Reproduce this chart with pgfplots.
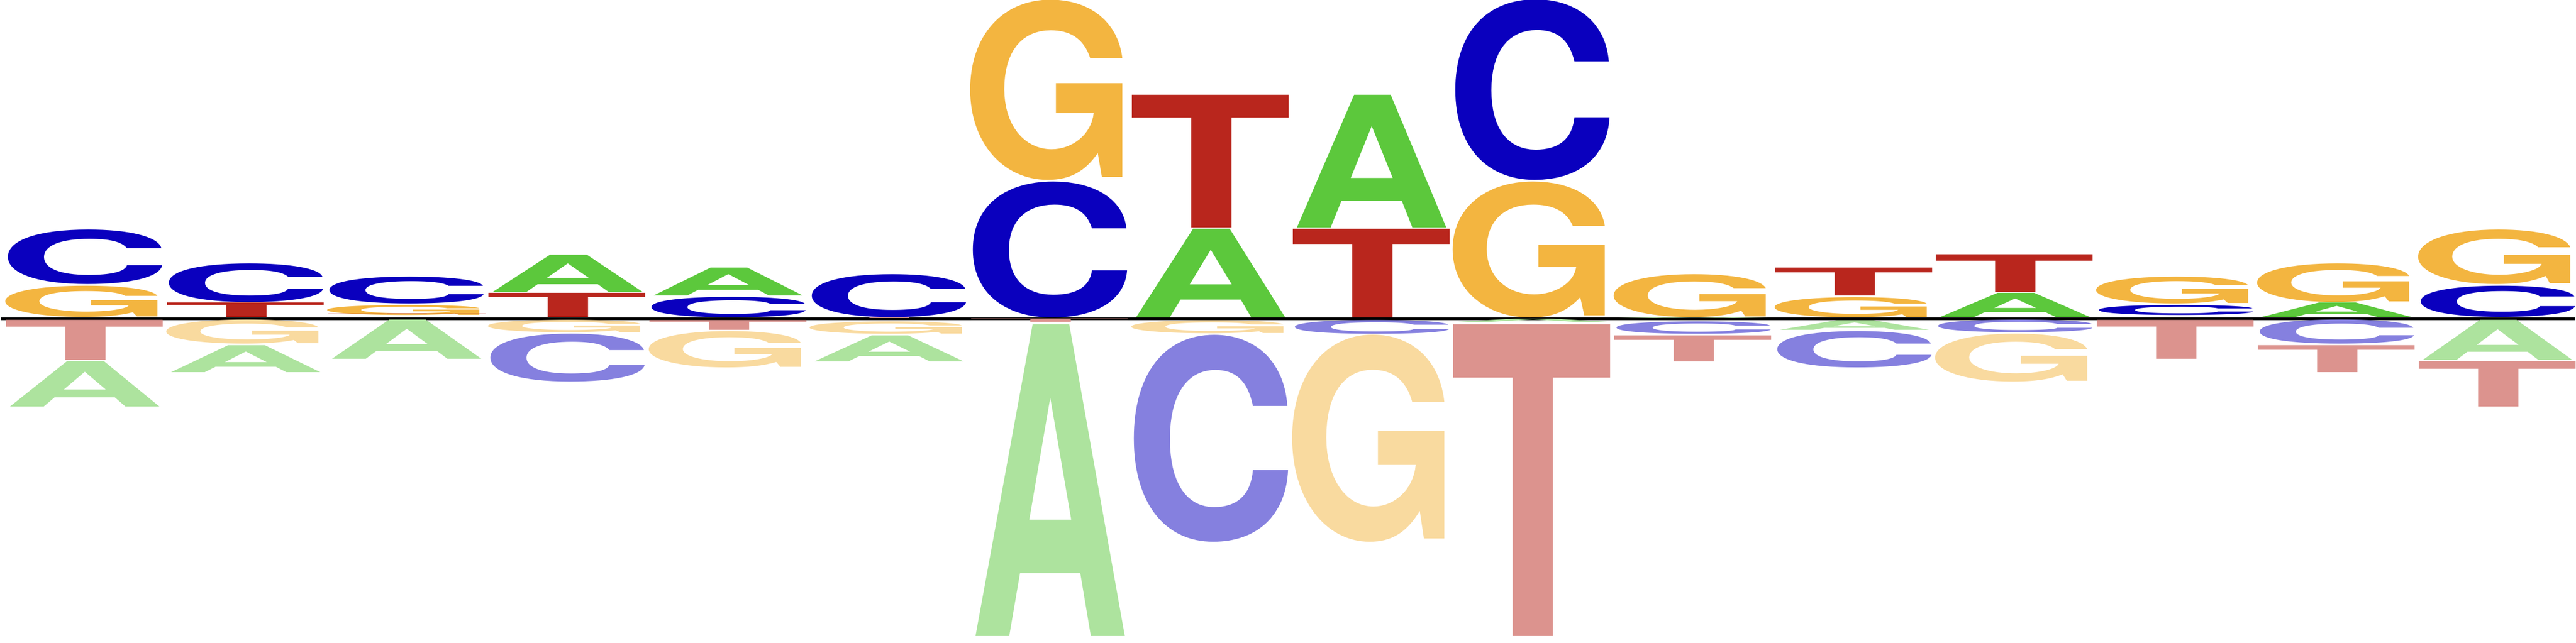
\documentclass[border=0pt]{standalone}
\usepackage{fontspec}
\usepackage{graphicx}
\usepackage{pgfplots}
\usepackage{pgfplotstable}
\pgfplotsset{compat=1.18}
\newfontfamily\logofont{TeX Gyre Heros}

% letter colours: above the line, and faded below it
\definecolor{lA}{RGB}{92,200,60}
\definecolor{lC}{RGB}{10,0,190}
\definecolor{lG}{RGB}{243,181,64}
\definecolor{lT}{RGB}{185,38,29}
\colorlet{fA}{lA!50!white}
\colorlet{fC}{lC!50!white}
\colorlet{fG}{lG!50!white}
\colorlet{fT}{lT!50!white}

% position, bottom of letter, letter height
\pgfplotstableread{
x y h
4 0.167 0.231
5 0.142 0.174
8 0.007 0.552
9 0.568 0.825
13 0.009 0.150
14 0.010 0.004
15 0.009 0.090
}\upA
\pgfplotstableread{
x y h
1 0.214 0.339
2 0.104 0.240
3 0.092 0.167
5 0.009 0.127
6 0.009 0.267
7 0.007 0.846
10 0.861 1.123
14 0.022 0.062
16 0.009 0.194
}\upC
\pgfplotstableread{
x y h
1 0.009 0.194
3 0.022 0.062
7 0.863 1.121
10 0.007 0.846
11 0.009 0.267
12 0.009 0.125
14 0.092 0.167
15 0.104 0.240
16 0.214 0.339
}\upG
\pgfplotstableread{
x y h
2 0.009 0.090
3 0.010 0.005
4 0.009 0.150
8 0.568 0.825
9 0.007 0.552
12 0.142 0.174
13 0.168 0.233
}\upT
\pgfplotstableread{
x y h
1 -0.549 0.283
2 -0.334 0.168
3 -0.251 0.244
6 -0.266 0.162
7 -1.976 1.940
10 -0.028 0.020
11 -0.013 0.005
12 -0.069 0.060
16 -0.258 0.249
}\dnA
\pgfplotstableread{
x y h
4 -0.391 0.298
9 -0.094 0.086
8 -1.388 1.287
11 -0.096 0.077
12 -0.304 0.226
13 -0.086 0.078
15 -0.158 0.150
}\dnC
\pgfplotstableread{
x y h
2 -0.158 0.150
4 -0.086 0.077
5 -0.304 0.226
6 -0.096 0.077
8 -0.092 0.081
9 -1.389 1.288
13 -0.391 0.298
}\dnG
\pgfplotstableread{
x y h
1 -0.258 0.249
5 -0.069 0.061
6 -0.013 0.005
7 -0.029 0.021
10 -1.976 1.940
11 -0.266 0.162
14 -0.251 0.242
15 -0.334 0.168
16 -0.549 0.283
}\dnT

% one letter per point, stretched to its height; the box width is set so
% that the ink of each glyph fills about 0.95 of a position.
% overlay: the glyph boxes must not widen the page beyond the axis.
\pgfplotsset{
    letter/.style n args={3}{
        draw=none, mark=none,
        visualization depends on={\thisrow{h} \as \hh},
        nodes near coords={\resizebox*{#3cm}{\hh cm}{\logofont\bfseries #1}},
        every node near coord/.append style={anchor=south, inner sep=0pt, outer sep=0pt, overlay, text=#2},
    },
}

\begin{document}
\begin{tikzpicture}
\begin{axis}[
    x=1cm, y=1cm,
    xmin=0.483, xmax=16.483,
    ymin=-2.017, ymax=1.983,
    axis line style={draw=none},
    ticks=none,
    clip=false,
]
\addplot[letter={A}{lA}{0.99}] table[x=x, y=y] {\upA};
\addplot[letter={C}{lC}{1.08}] table[x=x, y=y] {\upC};
\addplot[letter={G}{lG}{1.10}] table[x=x, y=y] {\upG};
\addplot[letter={T}{lT}{1.02}] table[x=x, y=y] {\upT};
\addplot[letter={A}{fA}{0.99}] table[x=x, y=y] {\dnA};
\addplot[letter={C}{fC}{1.08}] table[x=x, y=y] {\dnC};
\addplot[letter={G}{fG}{1.10}] table[x=x, y=y] {\dnG};
\addplot[letter={T}{fT}{1.02}] table[x=x, y=y] {\dnT};
\addplot[black, line width=0.45pt] coordinates {(0.483,0) (16.483,0)};
\end{axis}
\end{tikzpicture}
\end{document}
